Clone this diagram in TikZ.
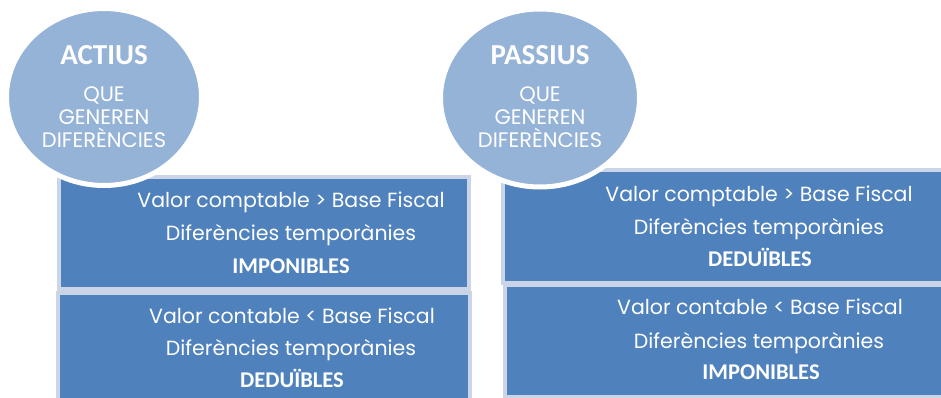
\documentclass[tikz,border=0pt]{standalone}
\usepackage{fontspec}
\usetikzlibrary{shapes.geometric}
\newfontfamily\gothic{Poppins}
\newfontfamily\boldf{Carlito}[BoldFont={Carlito Bold}]
\definecolor{boxblue}{RGB}{79,129,189}
\definecolor{circblue}{RGB}{149,179,215}
\definecolor{halo}{RGB}{203,213,232}
\begin{document}
\begin{tikzpicture}[x=1pt,y=-1pt,
  boxstyle/.style={draw=halo,line width=4pt,fill=boxblue},
  circstyle/.style={ellipse,draw=white,line width=5pt,fill=circblue,inner sep=0pt},
  boxtext/.style={text=white,font=\gothic\fontsize{20.5}{24}\selectfont,anchor=base,inner sep=0pt},
  boldtext/.style={text=white,font=\boldf\bfseries\fontsize{22.5}{26}\selectfont,anchor=base,inner sep=0pt},
  circtitle/.style={text=white,font=\boldf\bfseries\fontsize{29}{34}\selectfont,anchor=base,inner sep=0pt},
  circtext/.style={text=white,font=\gothic\fontsize{21}{24}\selectfont,anchor=base,inner sep=0pt}]
\useasboundingbox (0,0) rectangle (941,398);
% boxes
\path[boxstyle] (59,177) rectangle (469,289);
\path[boxstyle] (58,293) rectangle (470,402);
\path[boxstyle] (503,170) rectangle (946,283);
\path[boxstyle] (505,285) rectangle (946,397);
% left top box
\node[boxtext] (a1) at (291,207) {Valor comptable > Base Fiscal};
\node[boxtext] (a2) at (291,240) {Diferències temporànies};
\node[boldtext] (a3) at (291,273) {IMPONIBLES};
% left bottom box
\node[boxtext] (b1) at (292,323) {Valor contable < Base Fiscal};
\node[boxtext] (b2) at (291,355) {Diferències temporànies};
\node[boldtext] (b3) at (292,387) {DEDUÏBLES};
% right top box
\node[boxtext] (c1) at (759,201) {Valor comptable > Base Fiscal};
\node[boxtext] (c2) at (759,234) {Diferències temporànies};
\node[boldtext] (c3) at (760,266) {DEDUÏBLES};
% right bottom box
\node[boxtext] (d1) at (760,314) {Valor contable < Base Fiscal};
\node[boxtext] (d2) at (759,348) {Diferències temporànies};
\node[boldtext] (d3) at (761,379) {IMPONIBLES};
% circles
\node[circstyle,minimum width=195pt,minimum height=177pt] (e1) at (104,97) {};
\node[circstyle,minimum width=199pt,minimum height=178pt] (e2) at (540,98) {};
\node[circtitle] (f1) at (104,65) {ACTIUS};
\node[circtext] (f2) at (104,102) {QUE};
\node[circtext] (f3) at (104,125) {GENEREN};
\node[circtext] (f4) at (104,148) {DIFERÈNCIES};
\node[circtitle] (g1) at (540,65) {PASSIUS};
\node[circtext] (g2) at (540,102) {QUE};
\node[circtext] (g3) at (540,125) {GENEREN};
\node[circtext] (g4) at (540,148) {DIFERÈNCIES};
\end{tikzpicture}
\end{document}
